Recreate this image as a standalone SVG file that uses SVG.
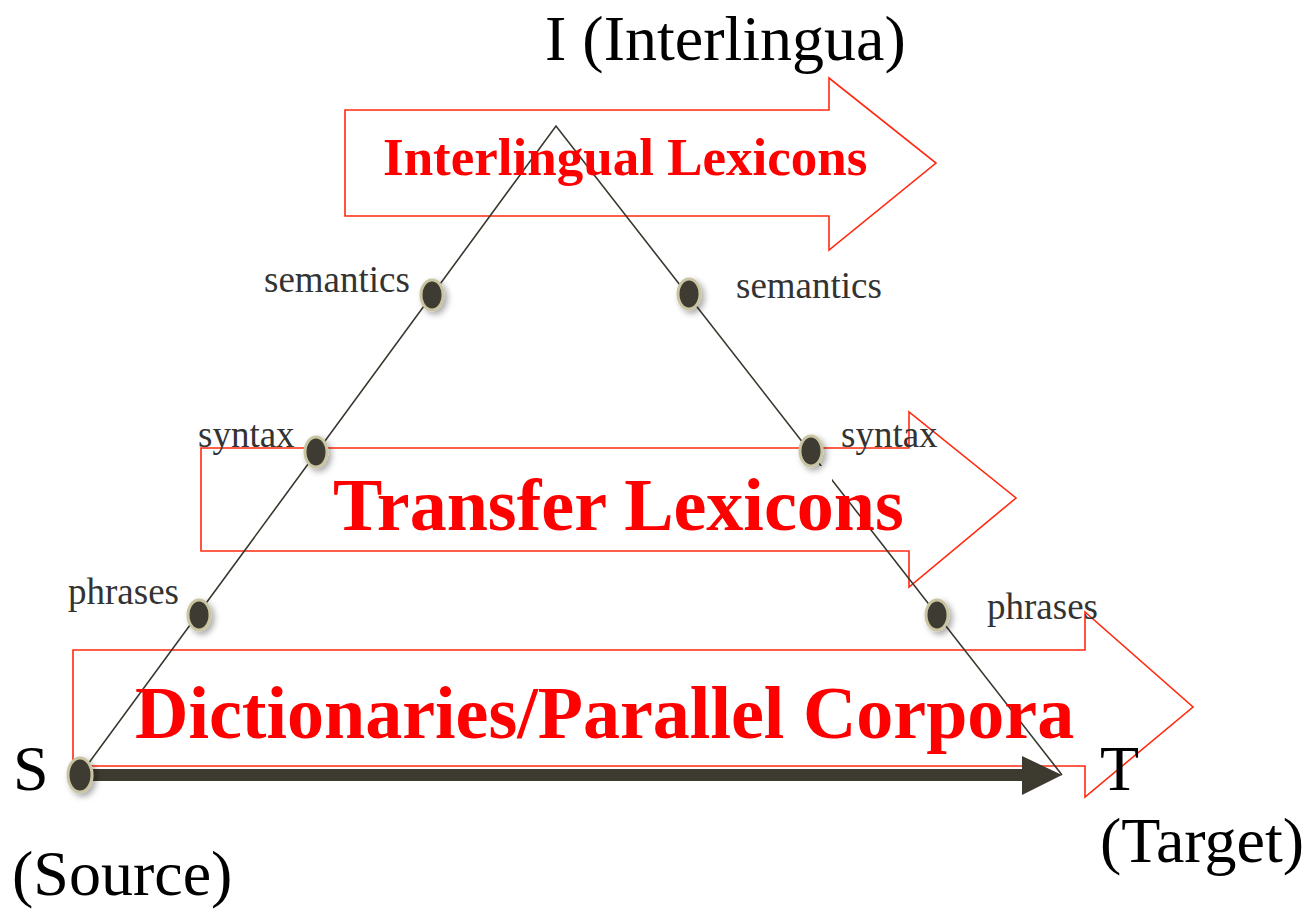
<svg xmlns="http://www.w3.org/2000/svg" width="1307" height="909" viewBox="0 0 1307 909">
<defs>
<style>
.blk{fill:none;stroke:#ff2a10;stroke-width:1.6;stroke-linejoin:miter}
.edge{stroke:#3a372e;stroke-width:1.6;fill:none}
.dot{fill:#3e3a30;stroke:#c9c5a2;stroke-width:3}
.lbl{font-family:"Liberation Serif","Times New Roman",serif;font-size:37px;fill:#333}
.big{font-family:"Liberation Serif","Times New Roman",serif;font-size:64px;fill:#000}
.red{font-family:"Liberation Serif","Times New Roman",serif;font-weight:bold;fill:#ff0000}
</style>
<filter id="sh" x="-50%" y="-50%" width="200%" height="200%">
<feDropShadow dx="3" dy="3" stdDeviation="3" flood-color="#000" flood-opacity="0.35"/>
</filter>
</defs>
<rect width="1307" height="909" fill="#fff"/>
<g id="arrow-interlingual">
<path class="blk" d="M345,110 H829 V78 L936,163 L829,250 V216 H345 Z"/>
</g>
<g id="arrow-transfer">
<path class="blk" d="M201,448 H909 V412 L1016,498 L909,587 V551 H201 Z"/>
</g>
<g id="arrow-dict">
<path class="blk" d="M73,650 H1085 V612 L1193,707 L1085,797 V766 H73 Z"/>
</g>
<g id="connectors">
<path class="edge" d="M80,775 L556,126 L1062,775"/>
<path d="M80,775 H1024" stroke="#3d3a2f" stroke-width="12" fill="none"/>
<path d="M1022,756 L1062,775 L1022,795 Z" fill="#3d3a2f"/>
</g>
<g id="occluders">
<rect x="318" y="455" width="16" height="20" fill="#fff"/>
<rect x="814" y="466" width="18" height="22" fill="#fff"/>
</g>
<g id="dots" filter="url(#sh)">
<ellipse class="dot" cx="432" cy="295" rx="11" ry="15"/>
<ellipse class="dot" cx="316" cy="452" rx="11" ry="15"/>
<ellipse class="dot" cx="199" cy="615" rx="11" ry="15"/>
<ellipse class="dot" cx="689" cy="294" rx="11" ry="15"/>
<ellipse class="dot" cx="811" cy="451" rx="11" ry="15"/>
<ellipse class="dot" cx="937" cy="615" rx="11" ry="15"/>
<ellipse class="dot" cx="80" cy="775" rx="12" ry="17"/>
</g>
<g id="node-I"><text class="big" x="545" y="60">I (Interlingua)</text></g>
<g id="node-S"><text class="big" x="13" y="790">S</text><text class="big" x="12" y="895">(Source)</text></g>
<g id="node-T"><text class="big" x="1100" y="790">T</text><text class="big" x="1100" y="862">(Target)</text></g>
<g id="labels">
<text class="lbl" x="264" y="292">semantics</text>
<text class="lbl" x="736" y="298">semantics</text>
<text class="lbl" x="198" y="447">syntax</text>
<text class="lbl" x="841" y="447">syntax</text>
<text class="lbl" x="68" y="604">phrases</text>
<text class="lbl" x="987" y="619">phrases</text>
</g>
<g id="lexicon-labels">
<text class="red" x="383" y="175" font-size="53">Interlingual Lexicons</text>
<text class="red" x="333" y="530" font-size="74">Transfer Lexicons</text>
<text class="red" x="135" y="738" font-size="74">Dictionaries/Parallel Corpora</text>
</g>
</svg>
